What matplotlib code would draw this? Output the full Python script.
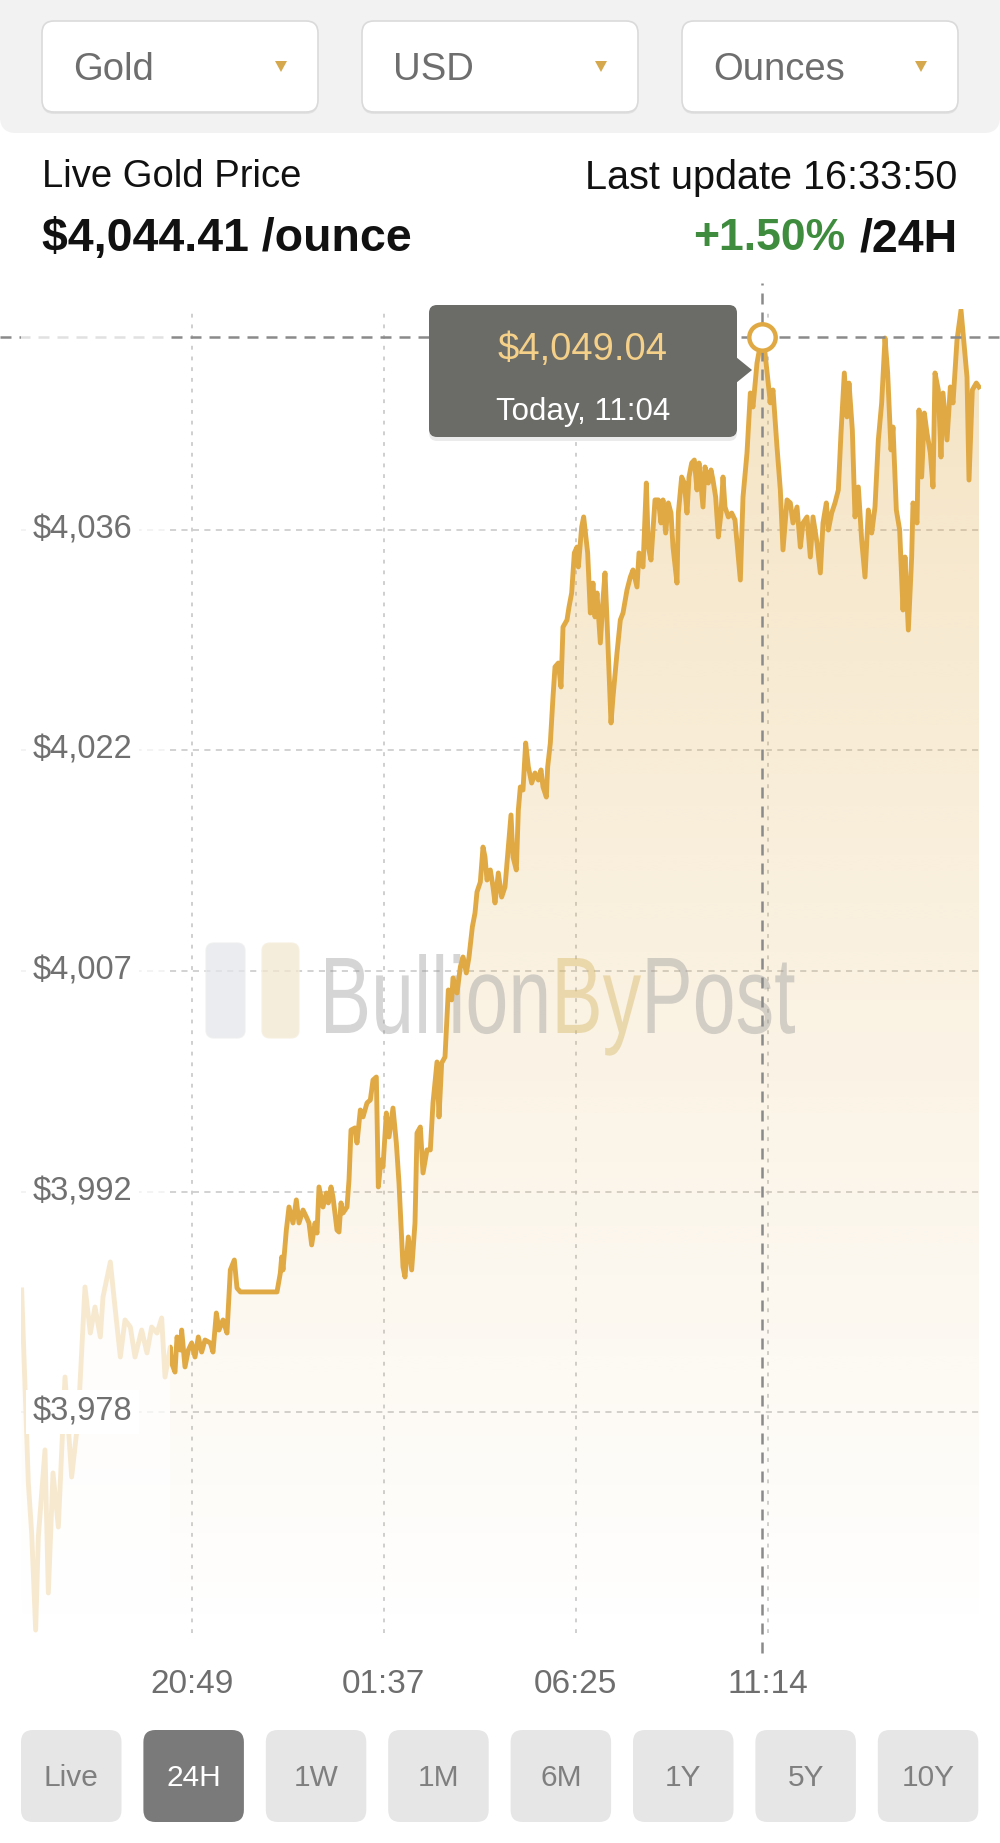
import matplotlib
matplotlib.use('Agg')
import matplotlib.pyplot as plt
import numpy as np
from matplotlib import font_manager
from matplotlib.patches import FancyBboxPatch, Polygon, PathPatch, Rectangle
from matplotlib.transforms import Affine2D
from matplotlib.textpath import TextPath
from matplotlib.font_manager import FontProperties

plt.rcParams['font.family'] = ['Liberation Sans', 'DejaVu Sans']

# ---- data (minutes since 16:33 yesterday, price in USD/oz) ----
faded_min = [1, 11, 16, 22, 26, 36, 41, 48, 56, 66, 76, 86, 96, 104, 111, 119, 123,
             134, 141, 149, 156, 164, 171, 181, 189, 196, 204, 211, 216, 224]
faded_price = [3985.79, 3972.97, 3969.65, 3963.21, 3969.39, 3975.17, 3965.67, 3973.64,
               3970.05, 3980.01, 3973.37, 3977.36, 3985.99, 3982.93, 3984.66, 3982.67,
               3985.32, 3987.65, 3984.66, 3981.34, 3983.80, 3983.33, 3981.34, 3983.13,
               3981.61, 3983.33, 3982.93, 3983.93, 3980.01, 3982.00]

live_min = [224, 226, 231, 234, 239, 241, 246, 251, 256, 261, 266, 271, 276, 284, 288,
            293, 297, 303, 309, 314, 320, 324, 329, 384, 389, 391, 393, 398, 402, 408,
            413, 417, 423, 428, 432, 436, 441, 444, 447, 453, 458, 461, 465, 468, 474,
            477, 480, 483, 489, 492, 495, 501, 504, 509, 513, 519, 524, 528, 533, 536,
            540, 543, 548, 552, 558, 563, 567, 573, 576, 581, 586, 591, 594, 599, 603,
            609, 614, 618, 624, 627, 631, 636, 641, 646, 648, 654, 659, 663, 668, 672,
            677, 681, 684, 689, 693, 696, 699, 704, 708, 711, 716, 721, 726, 731, 735,
            738, 743, 746, 749, 753, 757, 761, 766, 771, 776, 780, 783, 788, 790, 794,
            798, 801, 806, 810, 813, 819, 822, 826, 830, 834, 836, 841, 844, 850, 854,
            858, 861, 864, 869, 873, 876, 879, 885, 888, 894, 899, 903, 909, 914, 918,
            924, 927, 933, 938, 941, 945, 948, 951, 956, 960, 963, 967, 971, 975, 978,
            984, 986, 991, 995, 999, 1002, 1006, 1010, 1014, 1017, 1023, 1026, 1031,
            1035, 1038, 1042, 1046, 1050, 1053, 1056, 1061, 1066, 1071, 1079, 1083,
            1089, 1094, 1098, 1104, 1111, 1116, 1124, 1128, 1134, 1139, 1143, 1149,
            1154, 1158, 1164, 1169, 1173, 1179, 1184, 1188, 1194, 1199, 1203, 1208,
            1211, 1216, 1221, 1226, 1230, 1235, 1239, 1242, 1247, 1251, 1256, 1261,
            1266, 1271, 1276, 1281, 1286, 1291, 1296, 1300, 1305, 1308, 1313, 1318,
            1323, 1326, 1331, 1336, 1338, 1344, 1347, 1351, 1355, 1359, 1364, 1368,
            1371, 1376, 1380, 1383, 1389, 1394, 1398, 1404, 1410, 1414, 1419, 1422,
            1427, 1433, 1437]
live_price = [3982.00, 3980.94, 3980.34, 3982.67, 3981.80, 3983.13, 3980.68, 3981.80,
              3982.27, 3981.34, 3982.67, 3981.67, 3982.47, 3982.27, 3981.67, 3984.26,
              3983.13, 3983.80, 3982.93, 3987.12, 3987.78, 3985.92, 3985.66, 3985.66,
              3986.92, 3987.98, 3987.12, 3989.77, 3991.30, 3990.24, 3991.77, 3990.24,
              3991.10, 3990.64, 3990.24, 3988.78, 3990.24, 3989.57, 3992.63, 3991.30,
              3992.23, 3991.57, 3992.63, 3991.96, 3989.77, 3989.64, 3991.57, 3990.90,
              3991.30, 3993.09, 3996.41, 3996.55, 3995.55, 3997.74, 3997.28, 3998.21,
              3998.41, 3999.73, 3999.93, 3992.63, 3994.42, 3993.96, 3997.54, 3995.95,
              3997.87, 3995.55, 3992.89, 3987.32, 3986.65, 3989.31, 3987.12, 3990.24,
              3996.21, 3996.61, 3993.56, 3995.09, 3995.09, 3998.21, 4000.93, 3997.28,
              4000.86, 4001.26, 4005.71, 4005.05, 4006.51, 4005.51, 4007.24, 4007.90,
              4006.84, 4007.90, 4009.89, 4010.82, 4012.22, 4012.88, 4015.20, 4014.54,
              4013.01, 4013.68, 4012.55, 4011.49, 4013.48, 4011.88, 4012.55, 4015.20,
              4017.33, 4014.54, 4013.68, 4017.66, 4019.19, 4018.99, 4022.11, 4020.52,
              4019.45, 4020.12, 4019.65, 4020.32, 4019.19, 4018.52, 4020.52, 4022.11,
              4025.16, 4027.16, 4027.42, 4025.83, 4029.81, 4030.28, 4031.14, 4032.07,
              4034.73, 4035.12, 4033.80, 4036.45, 4037.12, 4034.73, 4030.74, 4032.73,
              4030.48, 4032.07, 4028.75, 4031.61, 4033.40, 4030.28, 4023.44, 4025.16,
              4028.09, 4030.28, 4030.74, 4032.27, 4033.13, 4033.60, 4032.47, 4034.73,
              4033.80, 4039.37, 4035.12, 4034.26, 4036.25, 4038.25, 4038.25, 4036.72,
              4038.25, 4036.05, 4038.05, 4037.38, 4035.12, 4032.73, 4037.38, 4039.77,
              4039.37, 4037.38, 4039.77, 4040.70, 4040.90, 4038.91, 4040.70, 4037.78,
              4040.44, 4039.37, 4040.24, 4039.57, 4038.44, 4035.79, 4037.38, 4039.77,
              4037.78, 4037.12, 4037.38, 4036.92, 4032.93, 4038.44, 4041.37, 4045.35,
              4044.42, 4047.34, 4049.04, 4048.01, 4044.69, 4045.55, 4041.76, 4038.91,
              4034.93, 4038.25, 4038.05, 4036.72, 4037.78, 4035.12, 4036.72, 4037.12,
              4034.46, 4037.12, 4035.39, 4033.40, 4036.72, 4038.05, 4036.25, 4037.38,
              4038.05, 4038.91, 4042.69, 4046.68, 4043.76, 4046.01, 4042.89, 4037.12,
              4039.11, 4035.59, 4033.13, 4037.58, 4036.05, 4037.78, 4042.23, 4044.69,
              4049.00, 4046.68, 4041.57, 4043.09, 4037.58, 4036.25, 4030.94, 4034.46,
              4029.61, 4034.46, 4038.05, 4036.72, 4044.22, 4039.77, 4044.02, 4042.69,
              4041.37, 4039.11, 4046.68, 4045.55, 4041.10, 4045.35, 4042.23, 4045.75,
              4044.69, 4048.87, 4050.86, 4048.87, 4046.41, 4039.57, 4045.55, 4046.01,
              4045.75]

xtick_min = [256, 544, 832, 1121]
xtick_labels = ['20:49', '01:37', '06:25', '11:14']
ytick_vals = [3977.67, 3992.32, 4006.97, 4021.62, 4036.27]
ytick_labels = ['$3,978', '$3,992', '$4,007', '$4,022', '$4,036']

hover_min = 1111
hover_price = 4049.04
hover_text = '$4,049.04'
hover_time = 'Today, 11:04'

selectors = ['Gold', 'USD', 'Ounces']
ranges = ['Live', '24H', '1W', '1M', '6M', '1Y', '5Y', '10Y']
active_range = '24H'

GOLD = '#e0a943'
W, H = 1000, 1843

fig = plt.figure(figsize=(W / 100, H / 100), dpi=100)
fig.patch.set_facecolor('white')
# pixel coordinates, origin top-left, for the app chrome
PX = Affine2D().scale(1 / W, -1 / H).translate(0, 1) + fig.transFigure

# ---- header ----
fig.add_artist(FancyBboxPatch((0, -30), W, 163, boxstyle='round,pad=0,rounding_size=16',
                              fc='#f2f2f2', ec='none', transform=PX))
for i, name in enumerate(selectors):
    x0 = 42 + i * 320
    fig.add_artist(FancyBboxPatch((x0, 23), 276, 91, boxstyle='round,pad=0,rounding_size=12',
                                  fc='#e2e2e2', ec='none', transform=PX))
    fig.add_artist(FancyBboxPatch((x0, 21), 276, 91, boxstyle='round,pad=0,rounding_size=12',
                                  fc='white', ec='#dadada', lw=1.2, transform=PX))
    fig.text(x0 + 31, 70, name, transform=PX, fontsize=27.5, color='#6e6e6e',
             ha='left', va='center')
    tx = x0 + 239
    fig.add_artist(Polygon([(tx - 6, 61), (tx + 6, 61), (tx, 72)], closed=True,
                           fc='#d6a84e', ec='none', transform=PX))

fig.text(42, 177, 'Live Gold Price', transform=PX, fontsize=27.5, color='#111111',
         ha='left', va='center')
fig.text(957, 178, 'Last update 16:33:50', transform=PX, fontsize=28.5, color='#111111',
         ha='right', va='center')
fig.text(42, 239, '$4,044.41 /ounce', transform=PX, fontsize=33.5, fontweight='bold',
         color='#111111', ha='left', va='center')
fig.text(845, 239, '+1.50%', transform=PX, fontsize=32, fontweight='bold',
         color='#3f8c3f', ha='right', va='center')
fig.text(958, 239, '/24H', transform=PX, fontsize=33.5, fontweight='bold',
         color='#111111', ha='right', va='center')

# ---- chart ----
ylo, yhi = 3963.0, 4050.9
ax = fig.add_axes([21 / W, 1 - 1633.2 / H, 960 / W, 1323.8 / H])
ax.set_axis_off()

all_min = faded_min + live_min[1:]
all_price = faded_price + live_price[1:]

# gradient fill under the line
verts = [(all_min[0], ylo)] + list(zip(all_min, all_price)) + [(all_min[-1], ylo)]
clip_poly = Polygon(verts, closed=True, fc='none', ec='none')
ax.add_patch(clip_poly)
rgba = np.zeros((256, 1, 4))
rgba[..., 0], rgba[..., 1], rgba[..., 2] = 224 / 255, 169 / 255, 67 / 255
rgba[:, 0, 3] = np.linspace(0.32, 0.0, 256)
im = ax.imshow(rgba, extent=[0, 1440, ylo, yhi], origin='upper', aspect='auto',
               zorder=2, interpolation='bilinear')
im.set_clip_path(clip_poly)

# grid
for v in ytick_vals:
    ax.axhline(v, color='#c6c6c6', lw=1.1, ls=(0, (4, 3.5)), zorder=1)
for m in xtick_min:
    ax.axvline(m, color='#c2c2c2', lw=1.1, ls=(0, (2.5, 4.5)), zorder=1)

# watermark
names = {f.name for f in font_manager.fontManager.ttflist}
wm_family = 'Liberation Sans Narrow' if 'Liberation Sans Narrow' in names else 'Liberation Sans'
fp = FontProperties(family=wm_family)
full = TextPath((0, 0), 'BullionByPost', size=100, prop=fp)
ext = full.get_extents()
cap = TextPath((0, 0), 'B', size=100, prop=fp).get_extents().height
b1 = TextPath((0, 0), 'Bullion', size=100, prop=fp).get_extents().x1
b2 = TextPath((0, 0), 'BullionBy', size=100, prop=fp).get_extents().x1
wm_tr = (Affine2D().translate(-ext.x0, 0).scale(469 / ext.width, -75 / cap)
         .translate(326, 1033) + PX)
for lo, hi, col in [(ext.x0 - 5, b1 + 2, '#9c9c9c'), (b1 + 2, b2 + 2, '#d6b663'),
                    (b2 + 2, ext.x1 + 5, '#9c9c9c')]:
    p = PathPatch(full, fc=col, ec='none', alpha=0.42, transform=wm_tr, zorder=2.5)
    ax.add_patch(p)
    p.set_clip_path(Rectangle((lo, -40), hi - lo, 200, transform=wm_tr))
ax.add_patch(FancyBboxPatch((206, 943), 39, 95, boxstyle='round,pad=0,rounding_size=8',
                            fc='#e4e6ea', ec='#eeeeee', alpha=0.75, transform=PX, zorder=2.5))
ax.add_patch(FancyBboxPatch((262, 943), 37, 95, boxstyle='round,pad=0,rounding_size=8',
                            fc='#f2e7cf', ec='#f6efe0', alpha=0.75, transform=PX, zorder=2.5))

# price line
ax.plot(all_min, all_price, color=GOLD, lw=3.5, solid_joinstyle='round', zorder=3)

# crosshair
ax.axvline(hover_min, ymin=-0.015, ymax=1.02, color='#8a8a8a', lw=1.8,
           ls=(0, (4.4, 3.2)), clip_on=False, zorder=3.5)
ax.axhline(hover_price, xmin=-0.022, xmax=1.02, color='#8a8a8a', lw=1.8,
           ls=(0, (4.4, 3.2)), clip_on=False, zorder=3.5)

# faded (not yet loaded) part
ax.axvspan(0, live_min[0], color='white', alpha=0.75, lw=0, zorder=4)

ax.plot(hover_min, hover_price, 'o', ms=19, mfc='white', mec=GOLD, mew=3.2,
        clip_on=False, zorder=8)

for v, lab in zip(ytick_vals, ytick_labels):
    ax.text(0.0125, v, lab, transform=ax.get_yaxis_transform(), fontsize=23.5,
            color='#707070', ha='left', va='center', zorder=6,
            bbox=dict(boxstyle='square,pad=0.2', fc='white', ec='none'))
for m, lab in zip(xtick_min, xtick_labels):
    ax.text(m, -0.039, lab, transform=ax.get_xaxis_transform(), fontsize=24,
            color='#6e6e6e', ha='center', va='center', clip_on=False)

ax.set_xlim(0, 1440)
ax.set_ylim(ylo, yhi)

# tooltip
fig.add_artist(FancyBboxPatch((429, 309), 308, 132, boxstyle='round,pad=0,rounding_size=8',
                              fc='black', ec='none', alpha=0.08, transform=PX, zorder=9))
fig.add_artist(FancyBboxPatch((429, 305), 308, 132, boxstyle='round,pad=0,rounding_size=8',
                              fc='#6b6b67', ec='none', transform=PX, zorder=10))
fig.add_artist(Polygon([(736, 357), (752, 370), (736, 383)], closed=True,
                       fc='#6b6b67', ec='none', transform=PX, zorder=10))
fig.text(583, 350, hover_text, transform=PX, fontsize=27.5, color='#f4d088',
         ha='center', va='center', zorder=11)
fig.text(583, 412, hover_time, transform=PX, fontsize=22.5, color='white',
         ha='center', va='center', zorder=11)

# ---- range buttons ----
for i, lab in enumerate(ranges):
    x0 = 21 + i * 122.4
    on = lab == active_range
    fig.add_artist(FancyBboxPatch((x0, 1730), 100.5, 92, boxstyle='round,pad=0,rounding_size=12',
                                  fc='#7a7a7a' if on else '#e6e6e6', ec='none', transform=PX))
    fig.text(x0 + 50.25, 1778, lab, transform=PX, fontsize=21.5,
             color='white' if on else '#7f7f7f', ha='center', va='center')

fig.savefig('out.png', dpi=100)
